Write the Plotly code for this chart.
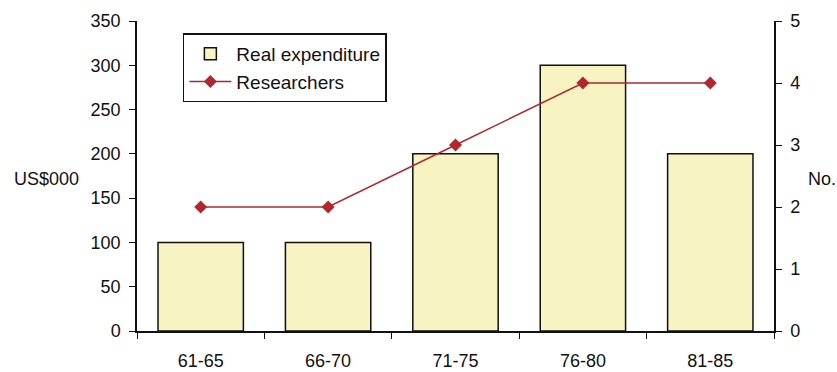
import plotly.graph_objects as go

periods = ["61-65", "66-70", "71-75", "76-80", "81-85"]
real_expenditure = [100, 100, 200, 300, 200]
researchers = [2, 2, 3, 4, 4]

left_ticks = [0, 50, 100, 150, 200, 250, 300, 350]
right_ticks = [0, 1, 2, 3, 4, 5]

FONT = dict(family="Liberation Sans, Arial, sans-serif", size=18, color="#111111")
LEGEND_FONT = dict(FONT, size=19)
AXIS = "#111111"

fig = go.Figure()
fig.add_trace(go.Bar(
    x=periods, y=real_expenditure, name="Real expenditure",
    marker=dict(color="#F7F3C3", line=dict(color="#111111", width=1.5)),
    yaxis="y",
))
fig.add_trace(go.Scatter(
    x=periods, y=researchers, name="Researchers", mode="lines+markers",
    line=dict(color="#B0282E", width=1.5),
    marker=dict(symbol="diamond", size=10, color="#B0282E"),
    yaxis="y2",
))

fig.update_layout(
    width=837, height=372,
    margin=dict(l=137, r=63, t=21, b=41, autoexpand=False),
    paper_bgcolor="white", plot_bgcolor="white",
    font=FONT,
    bargap=0.33,
    showlegend=True,
    legend=dict(
        x=0.072, y=0.96, xanchor="left", yanchor="top",
        bordercolor="#111111", borderwidth=1.5, bgcolor="white",
        font=LEGEND_FONT, tracegroupgap=0, itemwidth=42,
    ),
    xaxis=dict(
        type="category", tickson="boundaries", ticks="outside", ticklen=6,
        tickwidth=1.2, tickcolor=AXIS, showline=True, linecolor=AXIS, linewidth=1.5,
        showgrid=False, zeroline=False, ticklabelstandoff=13, tickfont=FONT,
        automargin=False,
    ),
    xaxis2=dict(
        overlaying="x", side="bottom", range=[-0.5, 4.5],
        tickvals=[-0.5, 0.5, 1.5, 2.5, 3.5, 4.5], ticks="inside", ticklen=5,
        tickwidth=1.2, tickcolor=AXIS, showticklabels=False, showgrid=False,
        zeroline=False, showline=False, automargin=False,
    ),
    yaxis=dict(
        range=[0, 350], tickvals=left_ticks, ticks="outside", ticklen=6,
        tickwidth=1.2, tickcolor=AXIS, showline=True, linecolor=AXIS, linewidth=1.5,
        showgrid=False, zeroline=False, ticklabelstandoff=5, tickfont=FONT,
        automargin=False,
    ),
    yaxis3=dict(
        overlaying="y", side="left", range=[0, 350], tickvals=left_ticks,
        ticks="inside", ticklen=5, tickwidth=1.2, tickcolor=AXIS,
        showticklabels=False, showgrid=False, zeroline=False, showline=False,
        automargin=False,
    ),
    yaxis2=dict(
        overlaying="y", side="right", range=[0, 5], tickvals=right_ticks,
        ticks="outside", ticklen=6, tickwidth=1.2, tickcolor=AXIS,
        showline=True, linecolor=AXIS, linewidth=1.5, showgrid=False, zeroline=False,
        ticklabelstandoff=5, tickfont=FONT, automargin=False,
    ),
    yaxis4=dict(
        overlaying="y", side="right", range=[0, 5], tickvals=right_ticks,
        ticks="inside", ticklen=5, tickwidth=1.2, tickcolor=AXIS,
        showticklabels=False, showgrid=False, zeroline=False, showline=False,
        automargin=False,
    ),
)

fig.add_annotation(text="US$000", xref="paper", yref="paper", x=-0.197, y=0.49,
                   xanchor="left", yanchor="middle", showarrow=False, font=FONT)
fig.add_annotation(text="No.", xref="paper", yref="paper", x=1.05, y=0.49,
                   xanchor="left", yanchor="middle", showarrow=False, font=FONT)

fig.write_html("out.html")
